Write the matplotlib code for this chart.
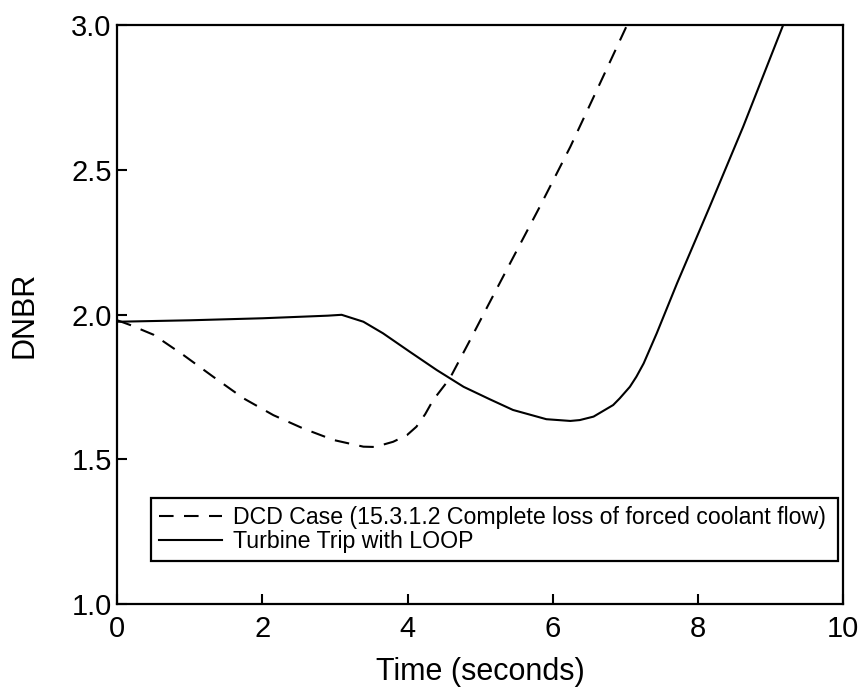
import matplotlib
matplotlib.use("Agg")
import matplotlib.pyplot as plt

plt.rcParams['font.family'] = ['Liberation Sans', 'DejaVu Sans']

# Turbine trip with LOOP (solid)
trip_time = [0, 1.0, 2.0, 2.9, 3.09, 3.39, 3.66, 4.03, 4.40, 4.77, 5.13, 5.45,
             5.91, 6.24, 6.37, 6.56, 6.83, 6.92, 7.06, 7.15, 7.25, 7.43, 7.71,
             8.16, 8.62, 9.17]
trip_dnbr = [1.975, 1.980, 1.987, 1.996, 1.999, 1.975, 1.935, 1.871, 1.808, 1.750, 1.707, 1.670,
             1.638, 1.632, 1.635, 1.647, 1.687, 1.710, 1.750, 1.785, 1.831, 1.935, 2.108,
             2.373, 2.649, 3.0]

# DCD case (dashed)
dcd_time = [0, 0.175, 0.5, 0.91, 1.32, 1.74, 2.15, 2.56, 2.98, 3.39, 3.55, 3.80,
            3.99, 4.12, 4.24, 4.35, 4.58, 4.86, 5.11, 5.41, 5.82, 6.24, 6.65, 7.02]
dcd_dnbr = [1.98, 1.964, 1.93, 1.86, 1.785, 1.71, 1.652, 1.606, 1.566, 1.543, 1.542, 1.560,
            1.583, 1.612, 1.655, 1.704, 1.779, 1.912, 2.033, 2.177, 2.373, 2.58, 2.80, 3.0]

labels = ["DCD Case (15.3.1.2 Complete loss of forced coolant flow)",
          "Turbine Trip with LOOP"]

fig = plt.figure(figsize=(8.63, 6.91), dpi=100)
ax = fig.add_axes([0.1359, 0.1263, 0.8413, 0.8371])

ax.plot(dcd_time, dcd_dnbr, color='black', lw=1.5, dashes=(7, 5), label=labels[0])
ax.plot(trip_time, trip_dnbr, color='black', lw=1.5, label=labels[1])

ax.set_xlim(0, 10)
ax.set_ylim(1.0, 3.0)
ax.set_xticks([0, 2, 4, 6, 8, 10])
ax.set_yticks([1.0, 1.5, 2.0, 2.5, 3.0])
ax.set_yticklabels(["1.0", "1.5", "2.0", "2.5", "3.0"])
ax.tick_params(direction='in', length=7, width=1.5, labelsize=21, top=False, right=False)
ax.tick_params(axis='x', pad=8)
ax.tick_params(axis='y', pad=4)
for s in ax.spines.values():
    s.set_linewidth(1.6)

ax.set_xlabel("Time (seconds)", fontsize=22, labelpad=10)
ax.set_ylabel("DNBR", fontsize=22, labelpad=23)

leg = ax.legend(loc='lower left', bbox_to_anchor=(0.047, 0.074, 0.946, 0.111),
                mode='expand', borderaxespad=0, fontsize=16.7, frameon=True,
                fancybox=False, handlelength=2.7, handletextpad=0.5,
                labelspacing=0.05, borderpad=0.33)
leg.get_frame().set_edgecolor('black')
leg.get_frame().set_linewidth(1.6)
leg.get_frame().set_alpha(1)

fig.savefig("out.png", dpi=100)
